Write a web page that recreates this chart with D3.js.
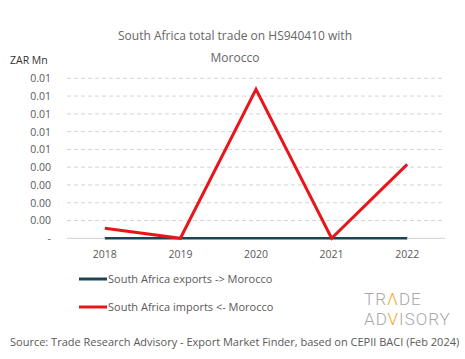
<!DOCTYPE html>
<html>
<head>
<meta charset="utf-8">
<script src="https://cdn.jsdelivr.net/npm/d3@7/dist/d3.min.js"></script>
<style>
  body { margin: 0; background: #fff; }
  svg { display: block; font-family: "Open Sans", "Noto Sans", sans-serif; }
</style>
</head>
<body>
<svg id="chart" width="465" height="359"></svg>
<script>
const years = ["2018", "2019", "2020", "2021", "2022"];
const exportsVals = [0, 0, 0, 0, 0];
const importsVals = [0.00056, 0, 0.00838, 0, 0.00416];
const tickValues = [0, 0.001, 0.002, 0.003, 0.004, 0.005, 0.006, 0.007, 0.008, 0.009];
const tickLabels = ["-", "0.00", "0.00", "0.00", "0.00", "0.01", "0.01", "0.01", "0.01", "0.01"];
const seriesNames = ["South Africa exports -> Morocco", "South Africa imports <- Morocco"];
const seriesColors = ["#1b4457", "#e8161b"];

const svg = d3.select("#chart");
const textColor = "#595959";

const x = d3.scaleBand().domain(years).range([67, 445]);
const y = d3.scaleLinear().domain([0, 0.009]).range([238.3, 78.3]);

// title
svg.append("text").attr("x", 235).attr("y", 40).attr("text-anchor", "middle")
  .attr("font-size", 12).attr("fill", "#666").text("South Africa total trade on HS940410 with");
svg.append("text").attr("x", 235).attr("y", 62).attr("text-anchor", "middle")
  .attr("font-size", 12).attr("fill", "#666").text("Morocco");

// unit
svg.append("text").attr("x", 10).attr("y", 64).attr("font-size", 10.5).attr("fill", "#333").text("ZAR Mn");

// y axis labels
const yAxis = d3.axisLeft(y).tickValues(tickValues).tickSize(0).tickPadding(0)
  .tickFormat((d, i) => tickLabels[i]);
const ga = svg.append("g").attr("transform", "translate(51,0)").call(yAxis);
ga.select(".domain").remove();
ga.selectAll("text").attr("font-size", 10.5).attr("fill", textColor)
  .attr("font-family", "'Open Sans', sans-serif");

// gridlines
svg.append("g").selectAll("line").data(tickValues.slice(1)).join("line")
  .attr("x1", 67).attr("x2", 445)
  .attr("y1", d => y(d)).attr("y2", d => y(d))
  .attr("stroke", "#d4d4d4").attr("stroke-width", 1).attr("stroke-dasharray", "4,3");
svg.append("line").attr("x1", 67).attr("x2", 445).attr("y1", y(0)).attr("y2", y(0))
  .attr("stroke", "#d0d0d0").attr("stroke-width", 1);

// x axis
const xAxis = d3.axisBottom(x).tickSize(0).tickPadding(0);
const gx = svg.append("g").attr("transform", `translate(0,${y(0) + 12})`).call(xAxis);
gx.select(".domain").remove();
gx.selectAll("text").attr("font-size", 10.5).attr("fill", textColor)
  .attr("font-family", "'Open Sans', sans-serif");

// lines
const line = d3.line().x((d, i) => x(years[i]) + x.bandwidth() / 2).y(d => y(d));
svg.append("path").datum(exportsVals).attr("d", line).attr("fill", "none")
  .attr("stroke", seriesColors[0]).attr("stroke-width", 2.5);
svg.append("path").datum(importsVals).attr("d", line).attr("fill", "none")
  .attr("stroke", seriesColors[1]).attr("stroke-width", 3).attr("stroke-linejoin", "miter");

// legend
const legY = [279, 307];
seriesNames.forEach((n, i) => {
  svg.append("line").attr("x1", 79).attr("x2", 107).attr("y1", legY[i]).attr("y2", legY[i])
    .attr("stroke", seriesColors[i]).attr("stroke-width", 3);
  svg.append("text").attr("x", 108).attr("y", legY[i] + 3.5).attr("font-size", 11)
    .attr("fill", textColor).text(n);
});

// source
svg.append("text").attr("x", 10).attr("y", 346).attr("font-size", 11).attr("fill", textColor)
  .text("Source: Trade Research Advisory - Export Market Finder, based on CEPII BACI (Feb 2024)");

// logo (single text element, two lines)
const logo = svg.append("text").attr("font-family", "Roboto, sans-serif").attr("font-weight", 300)
  .attr("font-size", 17).attr("letter-spacing", 1).attr("fill", "#a8a8a8");
logo.append("tspan").attr("x", 364).attr("y", 305).text("TR");
logo.append("tspan").attr("fill", "#f5a623").text("Λ");
logo.append("tspan").text("DE");
logo.append("tspan").attr("x", 364).attr("y", 325).text("AD");
logo.append("tspan").attr("fill", "#f5a623").text("V");
logo.append("tspan").text("ISORY");
</script>
</body>
</html>
